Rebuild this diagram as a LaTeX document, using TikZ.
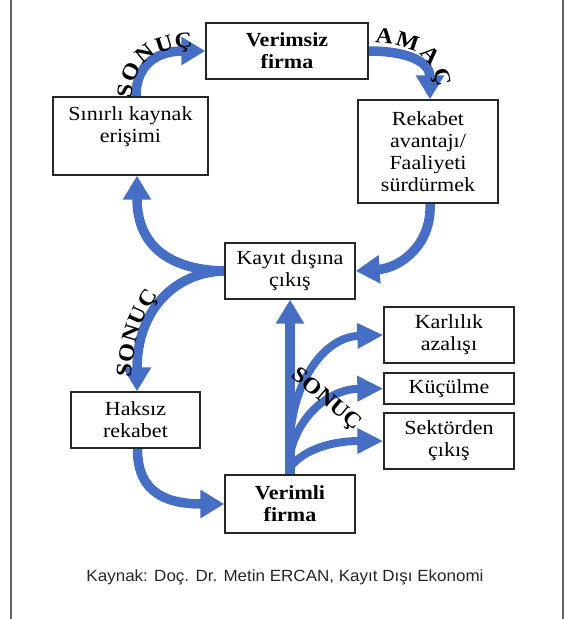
\documentclass[tikz,border=0pt]{standalone}
\usepackage{fontspec}
\setmainfont{Liberation Serif}[FakeStretch=1.1]
\newfontfamily\capfamily{Liberation Sans}[FakeStretch=1.05]
\usetikzlibrary{arrows.meta,decorations.text,calc}
\definecolor{ablue}{RGB}{70,110,196}
\definecolor{framegray}{RGB}{100,100,100}
\newcommand\boxfont{\fontsize{20}{22}\selectfont}
\newcommand\labfont{\fontsize{22}{22}\selectfont\bfseries}
\pgfdeclarelayer{bg}
\pgfsetlayers{bg,main}
\begin{document}
\begin{tikzpicture}[x=1pt,y=-1pt,
  bx/.style={draw=black!85, line width=1.4pt, fill=white, align=center, inner sep=0pt, font=\boxfont},
  bxb/.style={bx, font=\boxfont\bfseries},
  arr/.style={draw=ablue, line width=9.5pt, -{Triangle[width=27pt,length=24pt]}},
  brn/.style={draw=ablue, line width=8pt, -{Triangle[width=24pt,length=26pt]}},
]
\useasboundingbox (0,0) rectangle (571,619);
\draw[framegray, line width=2pt] (11,0) -- (11,619);
\draw[framegray, line width=2pt] (563,0) -- (563,619);

\node[bxb, minimum width=162pt, minimum height=56pt] (verimsiz) at (287,51) {Verimsiz\\firma};
\node[bx, minimum width=155pt, minimum height=78pt] (sin) at (130.5,136) {Sınırlı kaynak\\erişimi\\~};
\node[bx, minimum width=140pt, minimum height=103pt] (rek) at (428,151.5) {Rekabet\\avantajı/\\Faaliyeti\\sürdürmek};
\node[bx, minimum width=130pt, minimum height=56pt] (kayit) at (290,271) {Kayıt dışına\\çıkış};
\node[bx, minimum width=130pt, minimum height=56pt] (karl) at (449,335) {Karlılık\\azalışı};
\node[bx, minimum width=130pt, minimum height=31pt] (kuc) at (449,388.5) {Küçülme};
\node[bx, minimum width=130pt, minimum height=56pt] (sek) at (449,441) {Sektörden\\çıkış};
\node[bx, minimum width=129pt, minimum height=56pt] (hak) at (135.5,420) {Haksız\\rekabet};
\node[bxb, minimum width=130pt, minimum height=58pt] (verimli) at (290,504) {Verimli\\firma};

\node[font=\capfamily\fontsize{16.2}{18}\selectfont, text=black!85] (cap) at (285,577) {Kaynak: Doç. Dr. Metin ERCAN, Kayıt Dışı Ekonomi};

\coordinate (b1) at ($(verimli.north)+(0,-35)$);
\coordinate (b2) at ($(verimli.north)+(0,-20)$);
\coordinate (b3) at ($(verimli.north)+(0,-7)$);

\begin{pgfonlayer}{bg}
\draw[arr] ([xshift=5.5pt]sin.north) .. controls (136,62) and (160,51) .. (verimsiz.west);
\draw[arr] (verimsiz.east) .. controls (408,51) and (430,62) .. ([xshift=2pt]rek.north);
\draw[arr] ([xshift=2pt]rek.south) .. controls (432,245) and (400,268) .. (kayit.east);
\draw[arr] (kayit.west) .. controls (175,270) and (137,250) .. ([xshift=6.5pt]sin.south);
\draw[arr] (kayit.west) .. controls (175,272) and (137,310) .. ([xshift=1.5pt]hak.north);
\draw[arr] ([xshift=2pt]hak.south) .. controls (137,495) and (170,504) .. (verimli.west);
\draw[arr] (verimli.north) -- (kayit.south);
\draw[brn] (b1) .. controls (293,380) and (325,337) .. (karl.west);
\draw[brn] (b2) .. controls (298,415) and (330,389) .. (kuc.west);
\draw[brn] (b3) .. controls (305,448) and (335,441) .. (sek.west);
\end{pgfonlayer}

\path[decorate, decoration={text along path, text={|\labfont|SONUÇ}, text align=center, raise=4.5pt}]
  (136,106) .. controls (136,62) and (160,51) .. (200,51);
\path[decorate, decoration={text along path, text={|\labfont|AMAÇ}, text align=center, raise=8pt}]
  (368,51) .. controls (408,51) and (430,62) .. (430,96);
\path[decorate, decoration={text along path, text={|\labfont|SONUÇ}, text align=center, raise=7pt}]
  (137,400) .. controls (137,345) and (150,308) .. (180,283);
\node[font=\labfont, rotate=-40, inner sep=0pt] (fanlab) at (326,400) {SONUÇ};
\end{tikzpicture}
\end{document}
